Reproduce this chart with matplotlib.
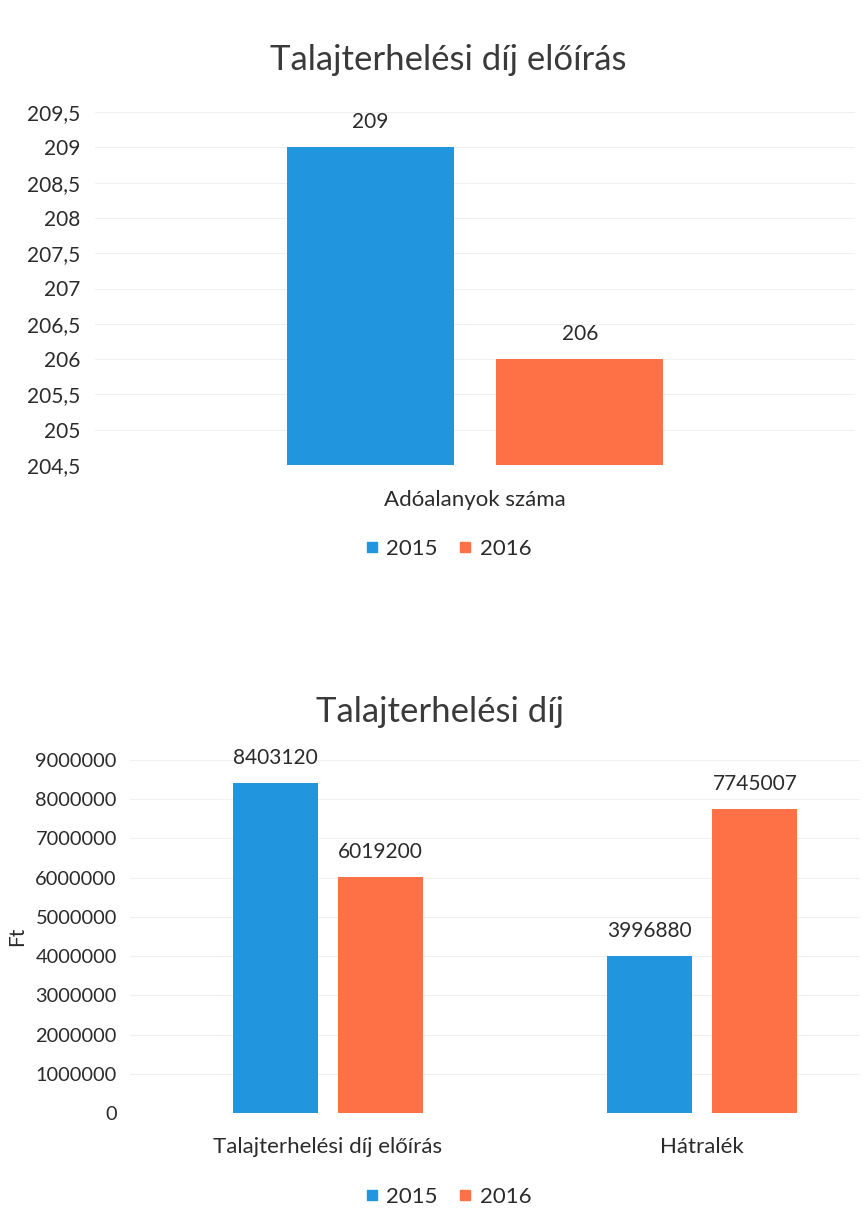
import matplotlib.pyplot as plt
from matplotlib.ticker import FuncFormatter
from matplotlib.lines import Line2D

plt.rc('font', family=['Lato', 'DejaVu Sans'], size=15)

BLUE = '#2196DF'
ORANGE = '#FE7146'

# chart 1: number of taxpayers
cat1 = ['Adóalanyok száma']
taxpayers_2015 = [209]
taxpayers_2016 = [206]

# chart 2: soil load fee (Ft)
cat2 = ['Talajterhelési díj előírás', 'Hátralék']
fee_2015 = [8403120, 3996880]
fee_2016 = [6019200, 7745007]

years = ['2015', '2016']

TXT = '#2b2b2b'

fig = plt.figure(figsize=(8.66, 12.24), dpi=100)

def style_axes(ax, ysize):
    for s in ax.spines.values():
        s.set_visible(False)
    ax.tick_params(length=0, colors=TXT)
    ax.tick_params(axis='y', labelsize=ysize)
    ax.tick_params(axis='x', labelsize=16)
    ax.yaxis.grid(True, color='#F0F0F0', linewidth=0.8)
    ax.set_axisbelow(True)

def legend_below(y):
    handles = [Line2D([], [], marker='s', linestyle='none', color=c, markersize=7)
               for c in (BLUE, ORANGE)]
    leg = fig.legend(handles, years, loc='center', bbox_to_anchor=(0.517, y), ncol=2,
                     frameon=False, fontsize=16, handlelength=0.7, handletextpad=0.3,
                     columnspacing=0.9)
    for t in leg.get_texts():
        t.set_color(TXT)

# ---- chart 1
ax1 = fig.add_axes([95/866, 1 - 465/1224, 760/866, 353/1224])
x = list(range(len(cat1)))
w = 0.22
off = 0.138
b1 = ax1.bar([i - off for i in x], [v - 204.5 for v in taxpayers_2015], w, bottom=204.5, color=BLUE)
b2 = ax1.bar([i + off for i in x], [v - 204.5 for v in taxpayers_2016], w, bottom=204.5, color=ORANGE)
ax1.set_ylim(204.5, 209.5)
ax1.set_xlim(-0.5, 0.5)
ax1.set_yticks([204.5 + 0.5 * k for k in range(11)])
ax1.yaxis.set_major_formatter(FuncFormatter(lambda v, p: ('%g' % v).replace('.', ',')))
ax1.set_xticks(x)
ax1.set_xticklabels(cat1)
style_axes(ax1, 15)
ax1.tick_params(axis='x', pad=18)
ax1.tick_params(axis='y', pad=10.5)
for bars, vals in ((b1, taxpayers_2015), (b2, taxpayers_2016)):
    for r, v in zip(bars, vals):
        ax1.annotate(str(v), (r.get_x() + r.get_width() / 2, v), xytext=(0, 11),
                     textcoords='offset points', ha='center', va='bottom', fontsize=15, color=TXT)
fig.text(0.518, 1 - 60/1224, 'Talajterhelési díj előírás', ha='center', va='center',
         fontsize=25, color='#3a3a3a')
legend_below(1 - 549/1224)

# ---- chart 2
ax2 = fig.add_axes([130/866, 1 - 1113/1224, 730/866, 353/1224])
x = list(range(len(cat2)))
w = 0.227
off = 0.141
b1 = ax2.bar([i - off for i in x], fee_2015, w, color=BLUE)
b2 = ax2.bar([i + off for i in x], fee_2016, w, color=ORANGE)
ax2.set_ylim(0, 9000000)
ax2.set_xlim(-0.529, 1.422)
ax2.set_yticks(range(0, 9000001, 1000000))
ax2.yaxis.set_major_formatter(FuncFormatter(lambda v, p: '%d' % v))
ax2.set_xticks(x)
ax2.set_xticklabels(cat2)
style_axes(ax2, 14.4)
ax2.tick_params(axis='x', pad=17)
ax2.tick_params(axis='y', pad=9.5)
ax2.set_ylabel('Ft', fontsize=15, color=TXT, labelpad=6)
for bars, vals in ((b1, fee_2015), (b2, fee_2016)):
    for r, v in zip(bars, vals):
        ax2.annotate(str(v), (r.get_x() + r.get_width() / 2, v), xytext=(0, 11),
                     textcoords='offset points', ha='center', va='bottom', fontsize=15, color=TXT)
fig.text(0.508, 1 - 712/1224, 'Talajterhelési díj', ha='center', va='center',
         fontsize=25, color='#3a3a3a')
legend_below(1 - 1197/1224)

fig.savefig('out.png', dpi=100)
